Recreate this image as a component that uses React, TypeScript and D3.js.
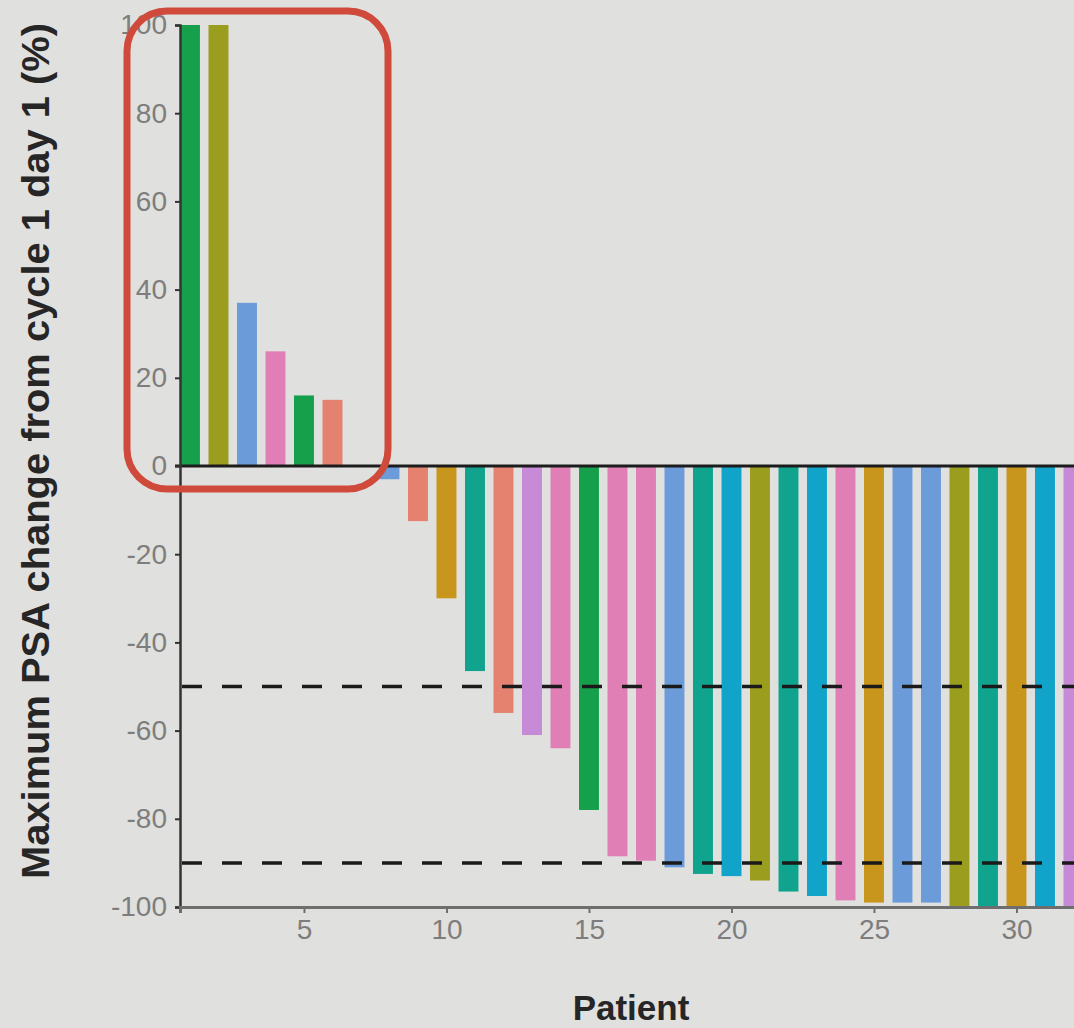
import React, { useEffect, useRef } from 'react';
import * as d3 from 'd3';

// patients 1..32, sorted from worst to best PSA response
const patients = d3.range(1, 33);
const psaChange = [
  100, 100, 37, 26, 16, 15, 0, -3, -12.5, -30,
  -46.5, -56, -61, -64, -78, -88.5, -89.5, -91, -92.5, -93,
  -94, -96.5, -97.5, -98.5, -99, -99, -99, -100, -100, -100,
  -100, -100,
];
const groups = [
  'green', 'olive', 'blue', 'pink', 'green', 'salmon', 'violet', 'blue', 'salmon', 'gold',
  'teal', 'salmon', 'violet', 'pink', 'green', 'pink', 'pink', 'blue', 'teal', 'cyan',
  'olive', 'teal', 'cyan', 'pink', 'gold', 'blue', 'blue', 'olive', 'teal', 'gold',
  'cyan', 'violet',
];
const groupNames = ['salmon', 'gold', 'olive', 'green', 'teal', 'cyan', 'blue', 'violet', 'pink'];
const groupColors = ['#e4826f', '#c8951d', '#9b9d1f', '#17a04c', '#10a48e', '#11a3c9', '#6b9bd9', '#c68ad6', '#e07fb5'];
const yTicks = [-100, -80, -60, -40, -20, 0, 20, 40, 60, 80, 100];
const xTicks = [5, 10, 15, 20, 25, 30];
const thresholds = [-50, -90];

function WaterfallChart() {
  const ref = useRef<SVGSVGElement>(null);

  useEffect(() => {
    const w = 1074;
    const h = 1028;
    const left = 180;
    const top = 25;
    const bottom = 907;
    const font = '"Liberation Sans", Arial, sans-serif';

    const svg = d3.select(ref.current);
    svg.selectAll('*').remove();
    svg.attr('width', w).attr('height', h).style('display', 'block');

    svg.append('rect').attr('width', w).attr('height', h).attr('fill', '#e0e0df');

    const x = d3.scaleLinear().domain([0.65, 32.35]).range([left, left + 31.7 * 28.5]);
    const y = d3.scaleLinear().domain([-100, 100]).range([bottom, top]);
    const color = d3.scaleOrdinal<string, string>().domain(groupNames).range(groupColors);
    const bw = x(1.7) - x(1);

    svg.append('g')
      .selectAll('rect')
      .data(patients)
      .enter()
      .append('rect')
      .attr('x', (d) => x(d) - bw / 2)
      .attr('y', (d, i) => y(Math.max(0, psaChange[i])))
      .attr('width', bw)
      .attr('height', (d, i) => Math.abs(y(psaChange[i]) - y(0)))
      .attr('fill', (d, i) => color(groups[i]));

    // response thresholds
    svg.append('g')
      .selectAll('line')
      .data(thresholds)
      .enter()
      .append('line')
      .attr('x1', left + 2)
      .attr('x2', w)
      .attr('y1', (d) => y(d))
      .attr('y2', (d) => y(d))
      .attr('stroke', '#1a1a1a')
      .attr('stroke-width', 3.5)
      .attr('stroke-dasharray', '20 20');

    // zero line
    svg.append('line')
      .attr('x1', left - 5).attr('x2', w)
      .attr('y1', y(0)).attr('y2', y(0))
      .attr('stroke', '#1c1c1c')
      .attr('stroke-width', 3);

    const yAxis = svg.append('g')
      .attr('transform', `translate(${left},0)`)
      .call(d3.axisLeft(y).tickValues(yTicks).tickSize(5).tickPadding(8).tickFormat((d) => String(d)));
    yAxis.select('.domain').attr('stroke', '#333').attr('stroke-width', 2.5);
    yAxis.selectAll('.tick line').attr('stroke', '#333').attr('stroke-width', 2);
    yAxis.selectAll('.tick text')
      .attr('fill', '#7d7d7d')
      .style('font-family', font)
      .style('font-size', '28px');

    const xAxis = svg.append('g')
      .attr('transform', `translate(0,${bottom})`)
      .call(d3.axisBottom(x).tickValues(xTicks).tickSize(6).tickPadding(6).tickFormat((d) => String(d)));
    xAxis.select('.domain').attr('stroke', '#6e6e6e').attr('stroke-width', 3);
    xAxis.selectAll('.tick line').attr('stroke', '#6e6e6e').attr('stroke-width', 2);
    xAxis.selectAll('.tick text')
      .attr('fill', '#7d7d7d')
      .style('font-family', font)
      .style('font-size', '28px');

    svg.append('text')
      .attr('x', 631)
      .attr('y', 1020)
      .attr('text-anchor', 'middle')
      .attr('fill', '#262626')
      .style('font-family', font)
      .style('font-weight', 'bold')
      .style('font-size', '35px')
      .text('Patient');

    svg.append('text')
      .attr('transform', 'translate(49,451) rotate(-90)')
      .attr('text-anchor', 'middle')
      .attr('fill', '#262626')
      .attr('textLength', 856)
      .attr('lengthAdjust', 'spacingAndGlyphs')
      .style('font-family', font)
      .style('font-weight', 'bold')
      .style('font-size', '38px')
      .text('Maximum PSA change from cycle 1 day 1 (%)');

    // highlight box around the progressing patients
    svg.append('rect')
      .attr('x', 127)
      .attr('y', 11)
      .attr('width', 261)
      .attr('height', 478)
      .attr('rx', 40)
      .attr('fill', 'none')
      .attr('stroke', '#d04a3c')
      .attr('stroke-width', 7);
  }, []);

  return <svg ref={ref}></svg>;
}

export default function App() {
  return (
    <div style={{ position: 'absolute', left: 0, top: 0 }}>
      <WaterfallChart />
    </div>
  );
}
